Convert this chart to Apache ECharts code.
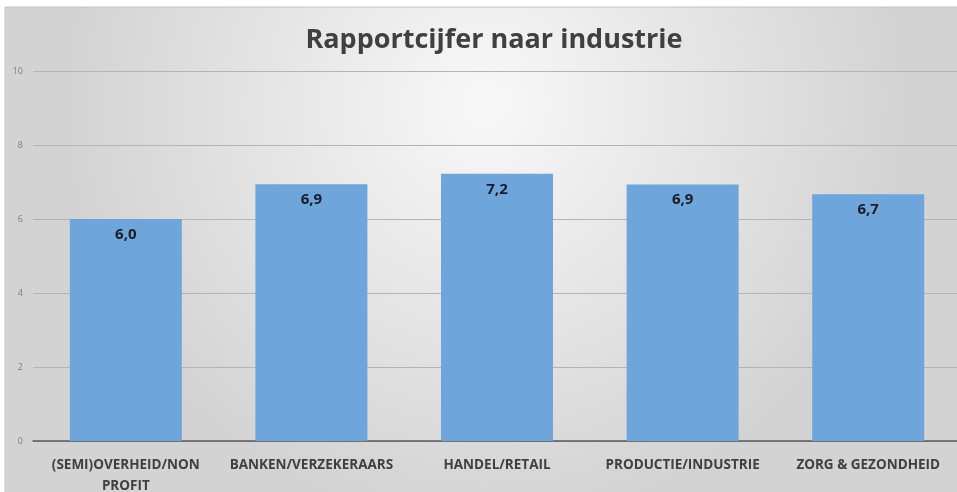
<!DOCTYPE html>
<html>
<head>
<meta charset="utf-8">
<script src="https://cdn.jsdelivr.net/npm/echarts@6/dist/echarts.min.js"></script>
<style>
    html, body { margin: 0; padding: 0; background: #fff; }
    #chart { width: 957px; height: 492px; }
</style>
</head>
<body>
<div id="chart"></div>
<script>
// data
var categories = ['(SEMI)OVERHEID/NON\nPROFIT', 'BANKEN/VERZEKERAARS', 'HANDEL/RETAIL', 'PRODUCTIE/INDUSTRIE', 'ZORG & GEZONDHEID'];
var scores = [6.0, 6.94, 7.22, 6.93, 6.67];
var yTicks = [0, 2, 4, 6, 8, 10];

window.onload = function(){
    setChart();
}

function setChart(){
    var dom = document.getElementById('chart');
    var myChart = echarts.init(dom, null, {renderer: 'canvas'});
    var option = {
        animation: false,
        graphic: [{
            type: 'rect',
            z: -10,
            silent: true,
            shape: {x: 5, y: 7, width: 960, height: 490},
            style: {
                fill: new echarts.graphic.RadialGradient(0.5, 0.2, 0.85, [
                    {offset: 0, color: '#f8f8f8'},
                    {offset: 1, color: '#d3d3d3'}
                ]),
                stroke: '#c4c4c4',
                lineWidth: 1
            }
        }],
        title: {
            text: 'Rapportcijfer naar industrie',
            left: 489,
            textAlign: 'center',
            top: 22,
            textStyle: {
                fontFamily: 'Open Sans',
                fontSize: 27,
                fontWeight: 'bold',
                color: '#404040'
            }
        },
        grid: {
            left: 33,
            top: 71,
            width: 928,
            height: 370,
            containLabel: false,
            outerBoundsMode: 'none'
        },
        xAxis: {
            type: 'category',
            data: categories,
            axisTick: {show: false},
            axisLine: {lineStyle: {color: '#595959', width: 1.5}},
            axisLabel: {
                interval: 0,
                margin: 14,
                fontFamily: 'Open Sans',
                fontSize: 13.5,
                fontWeight: 'bold',
                color: '#404040',
                lineHeight: 21
            }
        },
        yAxis: {
            type: 'value',
            min: yTicks[0],
            max: yTicks[yTicks.length - 1],
            interval: 2,
            axisLine: {show: false},
            axisTick: {show: false},
            splitLine: {lineStyle: {color: '#b4b4b4', width: 1}},
            axisLabel: {
                margin: 10,
                fontFamily: 'Open Sans',
                fontSize: 9,
                color: '#7f7f7f'
            }
        },
        series: [{
            type: 'bar',
            data: scores,
            barWidth: 112,
            itemStyle: {color: '#6ea5da'},
            label: {
                show: true,
                position: 'insideTop',
                distance: 8,
                fontFamily: 'Open Sans',
                fontSize: 15,
                fontWeight: 'bold',
                color: '#1c1c28',
                formatter: function(p){ return p.value.toFixed(1).replace('.', ','); }
            }
        }]
    };
    myChart.setOption(option);
}
</script>
</body>
</html>
